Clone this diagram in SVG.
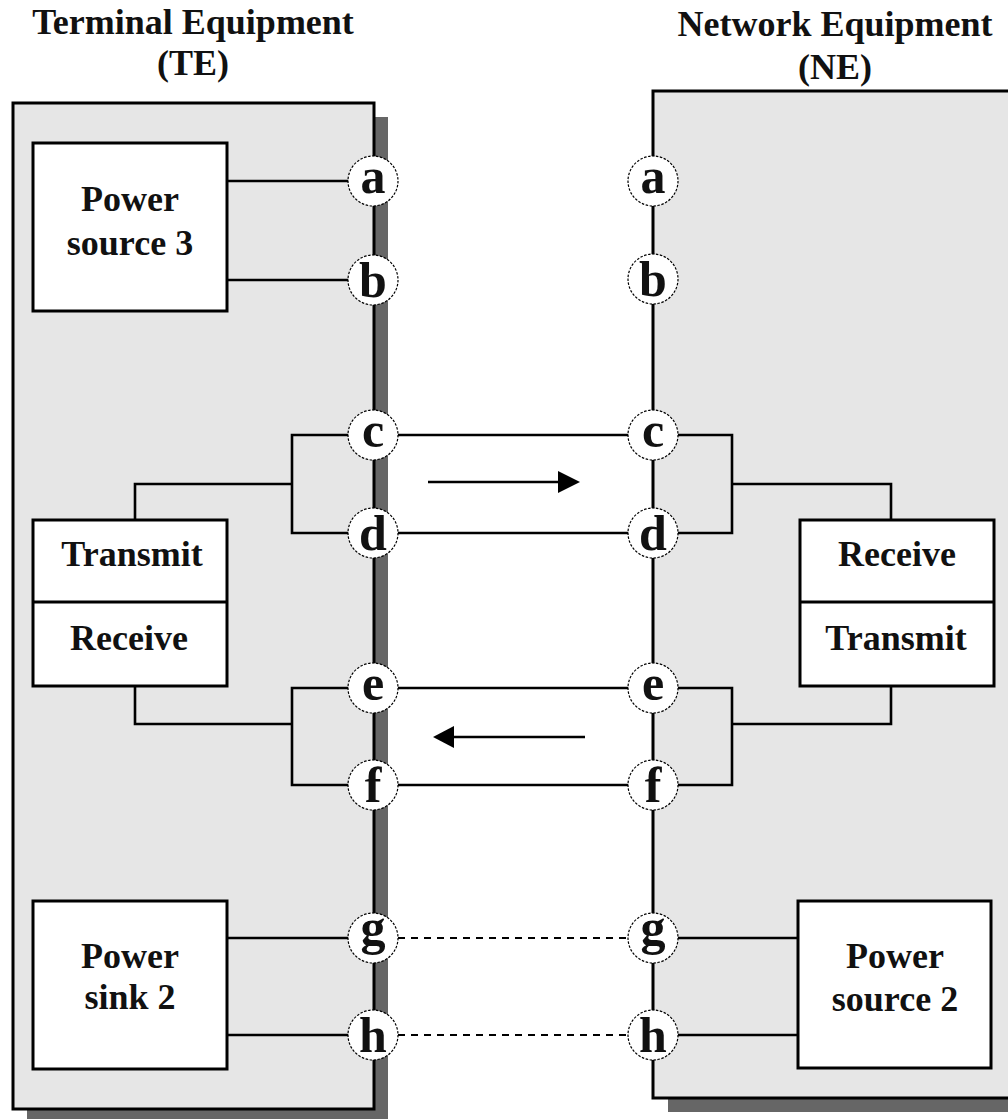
<svg xmlns="http://www.w3.org/2000/svg" width="1008" height="1119" viewBox="0 0 1008 1119">
<style>
text{font-family:"Liberation Serif","Times New Roman",serif;font-weight:bold;fill:#111;text-anchor:middle}
.t{font-size:36px}
.pin{font-size:50px}
.shadow{fill:#666}
.panel{fill:#e6e6e6;stroke:#000;stroke-width:3}
.blk{fill:#fff;stroke:#000;stroke-width:3}
.w{fill:none;stroke:#000;stroke-width:2.6}
.dash{fill:none;stroke:#000;stroke-width:2;stroke-dasharray:7 6}
.pc{fill:#fff;stroke:#000;stroke-width:1.2;stroke-dasharray:2.5 1.5}
</style>
<rect width="1008" height="1119" fill="#fff"/>
<g id="titles">
<text class="t" x="193" y="34">Terminal Equipment</text>
<text class="t" x="193" y="75">(TE)</text>
<text class="t" x="835" y="36">Network Equipment</text>
<text class="t" x="835" y="79">(NE)</text>
</g>
<g id="te">
<rect class="shadow" x="27" y="117" width="361" height="1010"/>
<rect class="panel" x="13" y="103" width="361" height="1006"/>
</g>
<g id="ne">
<rect class="shadow" x="668" y="105" width="360" height="1007"/>
<rect class="panel" x="653" y="91" width="370" height="1007"/>
</g>
<g id="connectors">
<path class="w" d="M227,181H373M227,280H373"/>
<path class="w" d="M373,435H653M373,533H653M373,688H653M373,785H653"/>
<path class="w" d="M373,435H292V533H373M292,484H135V520"/>
<path class="w" d="M373,688H292V785H373M292,724H135V686"/>
<path class="w" d="M653,435H732V533H653M732,484H891V520"/>
<path class="w" d="M653,688H732V785H653M732,724H891V686"/>
<path class="dash" d="M398,938H628M398,1035H628"/>
<path class="w" d="M227,938H373M227,1035H373"/>
<path class="w" d="M653,938H798M653,1035H798"/>
<path class="w" d="M428,482H562"/>
<polygon points="558,471 580,482 558,493" fill="#000"/>
<path class="w" d="M585,737H450"/>
<polygon points="454,726 433,737 454,748" fill="#000"/>
</g>
<g id="power-source-3">
<rect class="blk" x="33" y="143" width="194" height="168"/>
<text class="t" x="130" y="211">Power</text>
<text class="t" x="130" y="255">source 3</text>
</g>
<g id="te-transceiver">
<rect class="blk" x="33" y="520" width="194" height="166"/>
<line x1="33" y1="602" x2="227" y2="602" stroke="#000" stroke-width="3"/>
<text class="t" x="132" y="566">Transmit</text>
<text class="t" x="129" y="650">Receive</text>
</g>
<g id="power-sink-2">
<rect class="blk" x="33" y="901" width="194" height="168"/>
<text class="t" x="130" y="968">Power</text>
<text class="t" x="130" y="1009">sink 2</text>
</g>
<g id="ne-transceiver">
<rect class="blk" x="800" y="520" width="194" height="166"/>
<line x1="800" y1="602" x2="994" y2="602" stroke="#000" stroke-width="3"/>
<text class="t" x="897" y="566">Receive</text>
<text class="t" x="896" y="650">Transmit</text>
</g>
<g id="power-source-2">
<rect class="blk" x="798" y="901" width="193" height="167"/>
<text class="t" x="895" y="968">Power</text>
<text class="t" x="895" y="1011">source 2</text>
</g>
<g id="te-pins">
<g id="te-a"><circle class="pc" cx="373" cy="181" r="25"/><text class="pin" x="373" y="193">a</text></g>
<g id="te-b"><circle class="pc" cx="373" cy="280" r="25"/><text class="pin" x="373" y="297">b</text></g>
<g id="te-c"><circle class="pc" cx="373" cy="435" r="25"/><text class="pin" x="373" y="447">c</text></g>
<g id="te-d"><circle class="pc" cx="373" cy="533" r="25"/><text class="pin" x="373" y="550">d</text></g>
<g id="te-e"><circle class="pc" cx="373" cy="688" r="25"/><text class="pin" x="373" y="700">e</text></g>
<g id="te-f"><circle class="pc" cx="373" cy="785" r="25"/><text class="pin" x="373" y="802">f</text></g>
<g id="te-g"><circle class="pc" cx="373" cy="938" r="25"/><text class="pin" x="373" y="944">g</text></g>
<g id="te-h"><circle class="pc" cx="373" cy="1035" r="25"/><text class="pin" x="373" y="1052">h</text></g>
</g>
<g id="ne-pins">
<g id="ne-a"><circle class="pc" cx="653" cy="181" r="25"/><text class="pin" x="653" y="193">a</text></g>
<g id="ne-b"><circle class="pc" cx="653" cy="279" r="25"/><text class="pin" x="653" y="296">b</text></g>
<g id="ne-c"><circle class="pc" cx="653" cy="435" r="25"/><text class="pin" x="653" y="447">c</text></g>
<g id="ne-d"><circle class="pc" cx="653" cy="533" r="25"/><text class="pin" x="653" y="550">d</text></g>
<g id="ne-e"><circle class="pc" cx="653" cy="688" r="25"/><text class="pin" x="653" y="700">e</text></g>
<g id="ne-f"><circle class="pc" cx="653" cy="785" r="25"/><text class="pin" x="653" y="802">f</text></g>
<g id="ne-g"><circle class="pc" cx="653" cy="938" r="25"/><text class="pin" x="653" y="944">g</text></g>
<g id="ne-h"><circle class="pc" cx="653" cy="1035" r="25"/><text class="pin" x="653" y="1052">h</text></g>
</g>
</svg>
